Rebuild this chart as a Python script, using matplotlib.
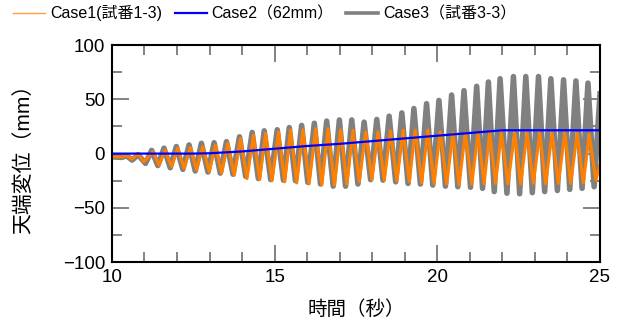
import numpy as np
import matplotlib
matplotlib.use("Agg")
import matplotlib.pyplot as plt
from matplotlib.ticker import MultipleLocator

plt.rcParams['font.family'] = ['Liberation Sans', 'Noto Sans CJK JP', 'DejaVu Sans']

# Case3 (gray): extrema
case3_t = [10.0, 10.3, 10.45, 10.62, 10.8, 11.03, 11.22, 11.41, 11.60, 11.79, 11.98, 12.18,
           12.37, 12.56, 12.75, 12.95, 13.14, 13.33, 13.52, 13.72, 13.92, 14.11, 14.31, 14.50,
           14.68, 14.88, 15.08, 15.27, 15.45, 15.64, 15.83, 16.02, 16.22, 16.41, 16.60, 16.80,
           16.99, 17.18, 17.37, 17.56, 17.75, 17.95, 18.14, 18.33, 18.52, 18.72, 18.91, 19.10,
           19.28, 19.48, 19.67, 19.86, 20.05, 20.25, 20.44, 20.63, 20.82, 21.02, 21.21, 21.39,
           21.57, 21.75, 21.93, 22.14, 22.34, 22.53, 22.72, 22.92, 23.11, 23.30, 23.49, 23.69,
           23.88, 24.07, 24.26, 24.45, 24.63, 24.82, 25.0]
case3_y = [-3, -3.5, -2, -6, -1, -9, 3, -11, 5, -13, 6.5, -14.5,
           8, -16, 9.5, -17, 10, -18, 11, -19, 15.5, -21, 19.5, -23,
           21, -24, 22, -24.5, 24, -25, 26, -26.5, 28, -28, 30, -30,
           31, -30, 31, -28, 29, -24, 31.5, -24.5, 34.5, -26, 37.5, -27.5,
           41.5, -28, 46, -29, 49, -30, 54, -30.5, 58, -31, 62, -32,
           66, -35, 69, -36.5, 71, -37, 71, -36, 71, -35, 69, -34,
           68, -33, 67, -32, 65, -30.5, 55]

# Case1 (orange)
case1_t = [10.0, 10.3, 10.45, 10.62, 10.8, 10.98, 11.26, 11.45, 11.64, 11.83, 12.02, 12.22,
           12.41, 12.60, 12.79, 12.99, 13.18, 13.37, 13.56, 13.76, 13.95, 14.15, 14.35, 14.54,
           14.72, 14.92, 15.12, 15.31, 15.49, 15.68, 15.87, 16.06, 16.26, 16.45, 16.64, 16.84,
           17.03, 17.22, 17.41, 17.60, 17.80, 17.99, 18.18, 18.37, 18.56, 18.76, 18.95, 19.14,
           19.32, 19.52, 19.71, 19.90, 20.09, 20.29, 20.48, 20.67, 20.86, 21.06, 21.25, 21.44,
           21.61, 21.79, 21.97, 22.17, 22.38, 22.56, 22.76, 22.95, 23.15, 23.33, 23.53, 23.72,
           23.92, 24.10, 24.30, 24.49, 24.67, 24.87, 25.0]
case1_y = [-3, -3, -2, -5, 0, -7.5, 1.7, -10.6, 3.2, -12, 4.8, -13.7,
           5.7, -15, 6.3, -16.8, 7.8, -18, 9.4, -20, 14, -23, 17, -24,
           18.6, -25, 20, -26, 21.7, -27, 22, -28, 23, -29, 23, -29,
           22, -28, 21.5, -26, 20, -24, 20, -24.4, 21, -25, 21.7, -26,
           21.7, -27, 21.7, -27.5, 20, -28, 19, -29, 19, -28, 19, -27.5,
           20, -27.5, 19, -28, 19, -28, 19, -27.5, 19, -28, 19, -27.5,
           19, -27.5, 18.6, -27, 18, -24.4, -10]

# Case2 (blue)
case2_t = [10, 12.5, 13, 14, 15, 16, 17, 18, 19, 20, 21, 22, 25]
case2_y = [0, 0, 0.3, 2, 4.5, 7, 9, 11.5, 14, 16.5, 19, 21.5, 21.5]

labels = ['Case1(試番1-3)', 'Case2（62mm）', 'Case3（試番3-3）']

fig = plt.figure(figsize=(6.22, 3.2), dpi=100)
ax = fig.add_axes([0.18, 0.181, 0.7846, 0.678])

l3, = ax.plot(case3_t, case3_y, color='#808080', lw=4.0, solid_joinstyle='round')
l1, = ax.plot(case1_t, case1_y, color='#FF8000', lw=2.2, solid_joinstyle='round')
l2, = ax.plot(case2_t, case2_y, color='#0000FF', lw=1.6)

ax.set_xlim(10, 25)
ax.set_ylim(-100, 100)
ax.xaxis.set_major_locator(MultipleLocator(5))
ax.xaxis.set_minor_locator(MultipleLocator(1))
ax.yaxis.set_major_locator(MultipleLocator(50))
ax.yaxis.set_minor_locator(MultipleLocator(25))
ax.tick_params(which='both', direction='in', top=True, right=True, color='#606060',
               width=1.1, labelsize=13.5)
ax.tick_params(axis='x', pad=5)
ax.tick_params(axis='y', pad=5)
ax.tick_params(which='major', length=12)
ax.tick_params(which='minor', length=7)
for s in ax.spines.values():
    s.set_linewidth(1.5)

ax.set_xlabel('時間（秒）', fontsize=14)
ax.set_ylabel('天端変位（mm）', fontsize=15)
ax.xaxis.set_label_coords(0.5, -0.175)
ax.yaxis.set_label_coords(-0.162, 0.5)

h1 = plt.Line2D([], [], color='#FFA040', lw=1.0)
h2 = plt.Line2D([], [], color='#0000FF', lw=1.6)
h3 = plt.Line2D([], [], color='#808080', lw=2.6)
fig.legend([h1, h2, h3], labels, loc='center left', bbox_to_anchor=(0.021, 0.959), ncol=3,
           frameon=False, fontsize=11.5, handlelength=2.0, handletextpad=0.3,
           columnspacing=0.8, borderpad=0, borderaxespad=0)

fig.savefig('out.png', dpi=100)
